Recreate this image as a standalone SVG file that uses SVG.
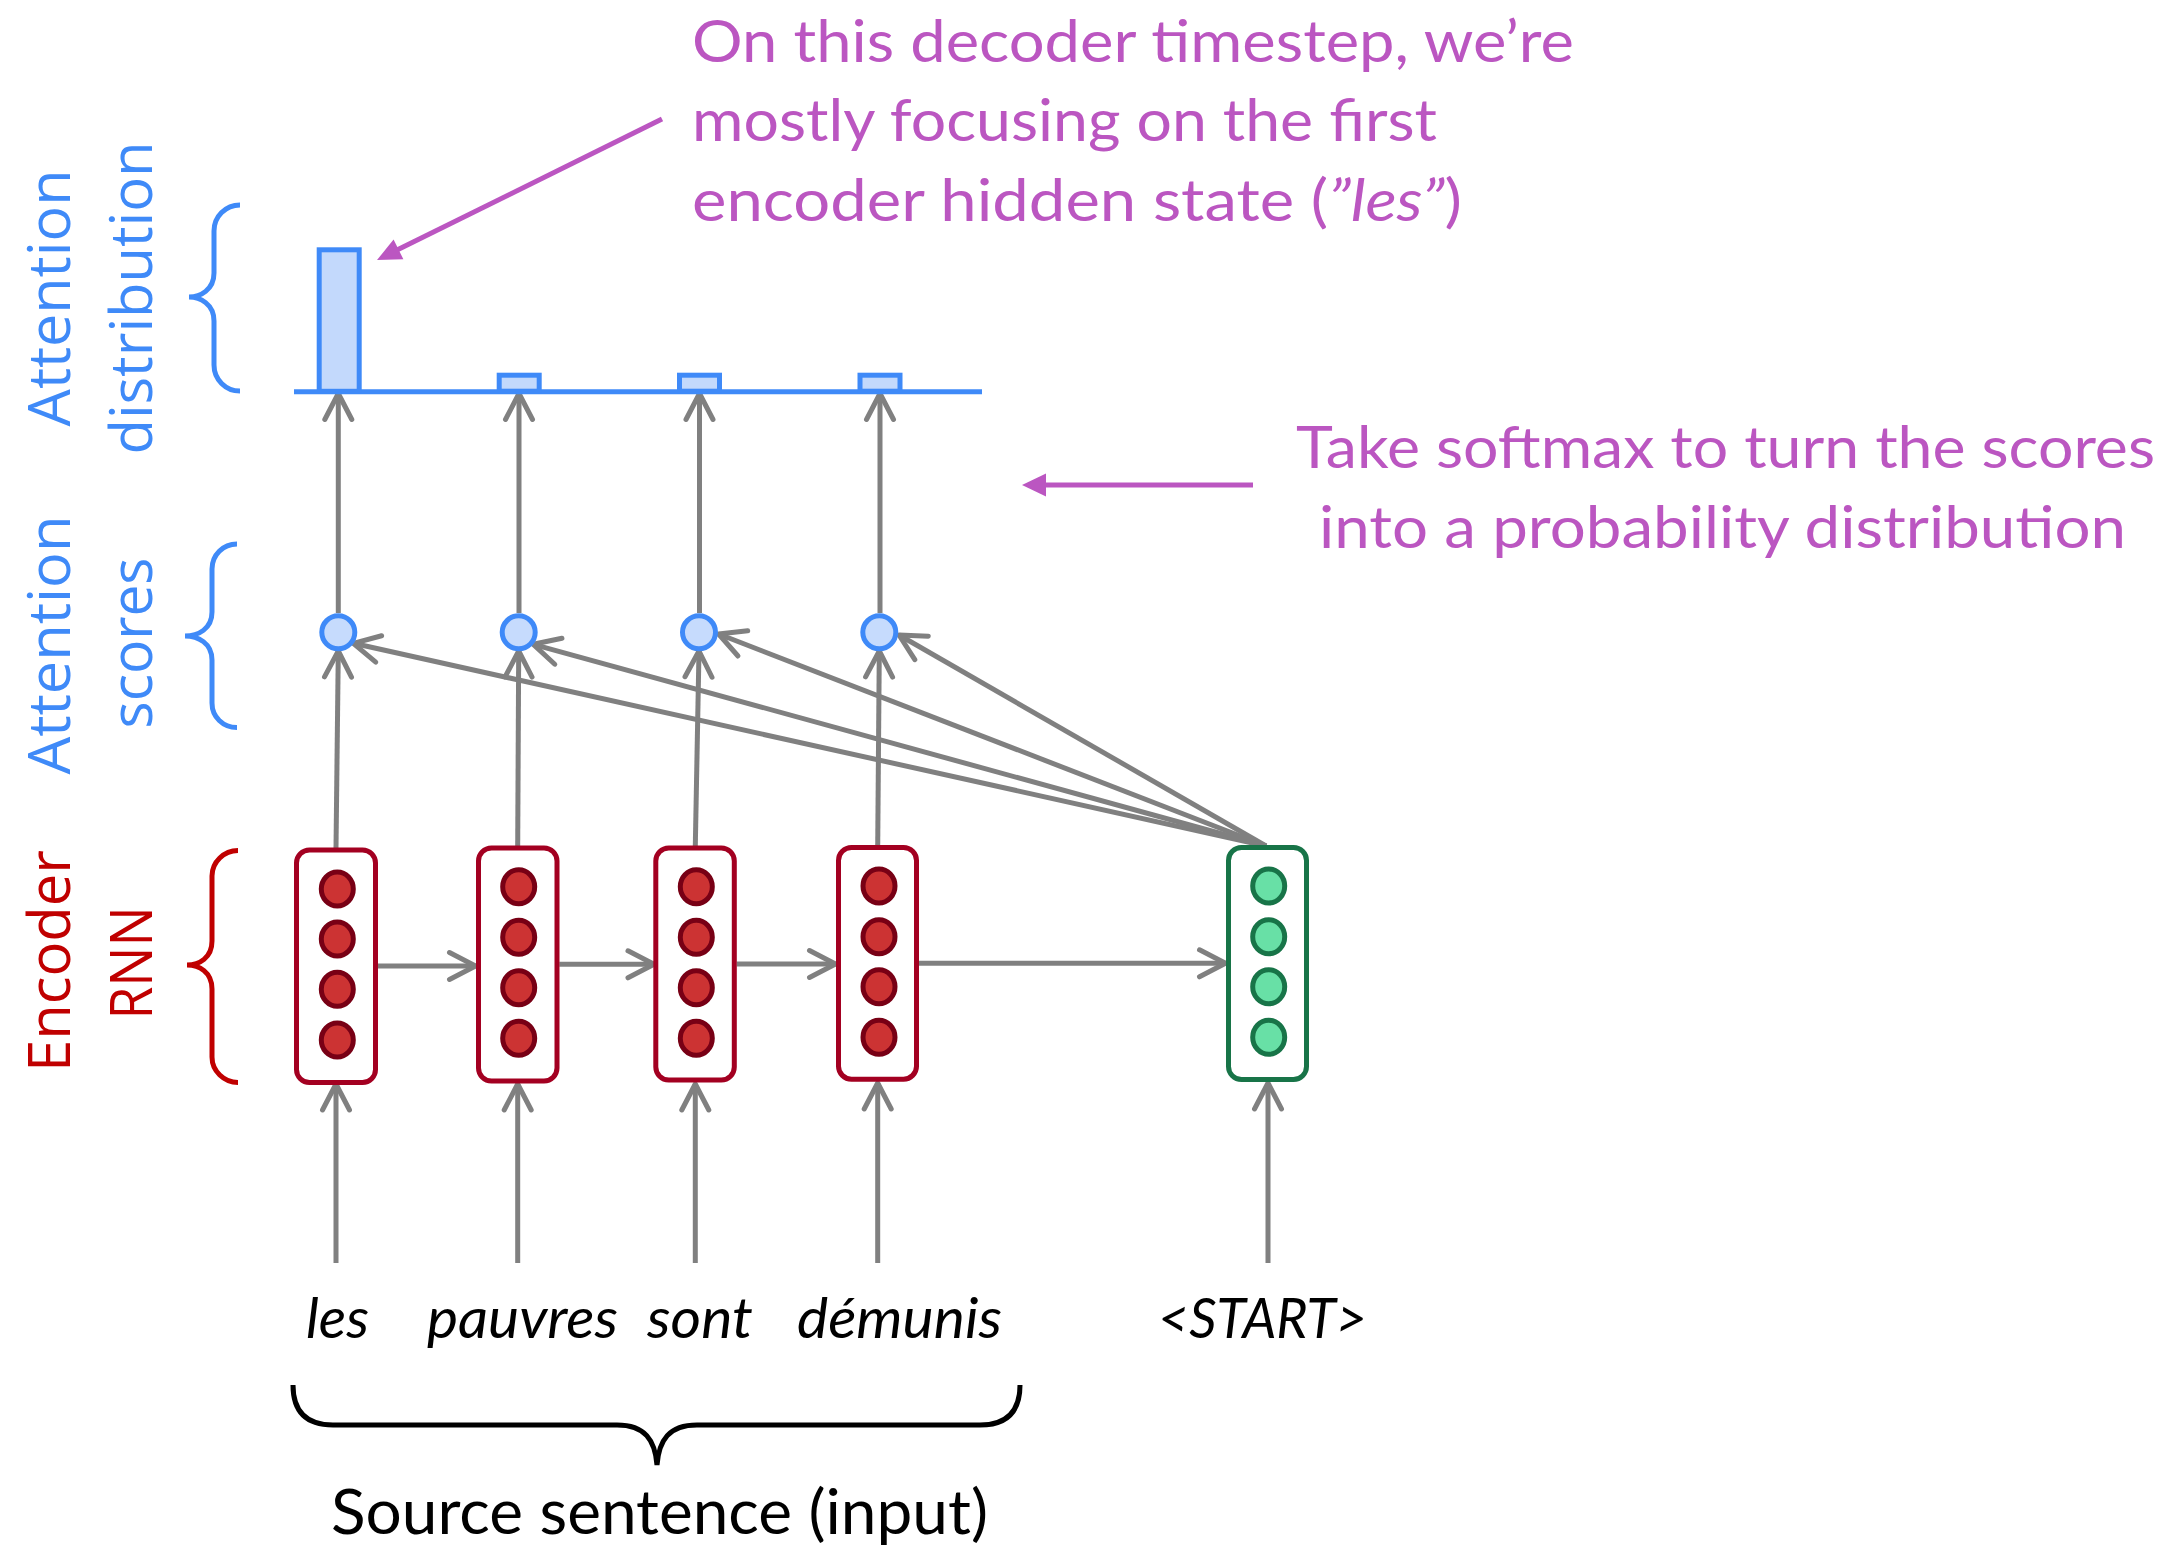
<svg xmlns="http://www.w3.org/2000/svg" width="2165" height="1545" viewBox="0 0 2165 1545">
<style>
.conn{fill:none;stroke:#808080;stroke-width:5;marker-end:url(#chev)}
.pink{fill:none;stroke:#BB56C1;stroke-width:5}
.pinkhead{fill:#BB56C1}
.bar{fill:#C3D9FC;stroke:#3F8AF8;stroke-width:5}
.score{fill:#C6DBFD;stroke:#3F8AF8;stroke-width:5}
.enc{fill:#FFFFFF;stroke:#A30021;stroke-width:5}
.dec{fill:#FFFFFF;stroke:#187448;stroke-width:5}
.rdot{fill:#CC3333;stroke:#780015;stroke-width:5}
.gdot{fill:#68E0A6;stroke:#187448;stroke-width:5}
.bbrace{fill:none;stroke:#3F8AF8;stroke-width:5}
.rbrace{fill:none;stroke:#C00000;stroke-width:5}
.kbrace{fill:none;stroke:#000000;stroke-width:5}
.side{font-family:'Open Sans','Noto Sans',sans-serif;font-size:59px;text-anchor:middle}
.ann{font-family:Lato,'Open Sans',sans-serif;font-size:58px;fill:#BB56C1}
.word{font-family:Lato,'Open Sans',sans-serif;font-size:57px;font-style:italic;fill:#000000}
.src{font-family:Lato,'Open Sans',sans-serif;font-size:62px;fill:#000000}
</style>
<defs>
<marker id="chev" markerUnits="userSpaceOnUse" orient="auto" overflow="visible" refX="0" refY="0" markerWidth="1" markerHeight="1">
<path d="M-26,-13.5 L0,0 L-26,13.5" fill="none" stroke="#808080" stroke-width="5" stroke-linecap="round" stroke-linejoin="round"/>
</marker>
</defs>
<rect x="0" y="0" width="2165" height="1545" fill="#FFFFFF"/>

<g id="side-labels">
<text class="side" fill="#3F8AF8" transform="translate(70,298) rotate(-90)" textLength="257" lengthAdjust="spacingAndGlyphs">Attention</text>
<text class="side" fill="#3F8AF8" transform="translate(152,298) rotate(-90)" textLength="313" lengthAdjust="spacingAndGlyphs">distribution</text>
<text class="side" fill="#3F8AF8" transform="translate(70,645) rotate(-90)" textLength="259" lengthAdjust="spacingAndGlyphs">Attention</text>
<text class="side" fill="#3F8AF8" transform="translate(152,643) rotate(-90)" textLength="171" lengthAdjust="spacingAndGlyphs">scores</text>
<text class="side" fill="#C00000" transform="translate(70,961) rotate(-90)" textLength="222" lengthAdjust="spacingAndGlyphs">Encoder</text>
<text class="side" fill="#C00000" transform="translate(152,963) rotate(-90)" textLength="113" lengthAdjust="spacingAndGlyphs">RNN</text>
</g>

<g id="braces">
<path class="bbrace" d="M240,205 C225.6,205 214,216.6 214,231 L214,273 C214,290 200,297 189,297 C200,297 214,304 214,321 L214,365 C214,379.4 225.6,391 240,391"/>
<path class="bbrace" d="M237,544 C223,544 212,555 212,569 L212,612 C212,629 198,636 185,636 C198,636 212,643 212,660 L212,703 C212,717 223,727.5 237,727.5"/>
<path class="rbrace" d="M238,850.5 C224,850.5 212,862 212,876 L212,941 C212,958 199,965 187,965 C199,965 212,972 212,989 L212,1057 C212,1071 224,1082.5 238,1082.5"/>
<path class="kbrace" d="M293,1385 C293,1410 305,1425 333,1425 L617,1425 C645,1425 655,1440 657,1465 C659,1440 669,1425 697,1425 L980,1425 C1008,1425 1020,1410 1020,1385"/>
</g>

<g id="connectors">
<line class="conn" x1="338.3" y1="613" x2="338.3" y2="393.5"/>
<line class="conn" x1="519" y1="613" x2="519" y2="393.5"/>
<line class="conn" x1="699.5" y1="613" x2="699.5" y2="393.5"/>
<line class="conn" x1="880" y1="613" x2="880" y2="393.5"/>
<line class="conn" x1="336" y1="848" x2="338.3" y2="651"/>
<line class="conn" x1="517.7" y1="846" x2="518.7" y2="651"/>
<line class="conn" x1="695.3" y1="846" x2="699" y2="651"/>
<line class="conn" x1="877.7" y1="846" x2="879.3" y2="651"/>
<line class="conn" x1="1266" y1="846" x2="353.3" y2="643.3"/>
<line class="conn" x1="1266" y1="846" x2="533.3" y2="644.3"/>
<line class="conn" x1="1266" y1="846" x2="718.6" y2="634"/>
<line class="conn" x1="1266" y1="846" x2="899" y2="635"/>
<line class="conn" x1="377.7" y1="966" x2="475.5" y2="966"/>
<line class="conn" x1="559.3" y1="964.3" x2="654" y2="964.3"/>
<line class="conn" x1="736.7" y1="964" x2="835.5" y2="964"/>
<line class="conn" x1="919" y1="963.3" x2="1225.5" y2="963.3"/>
<line class="conn" x1="336" y1="1263" x2="336" y2="1084"/>
<line class="conn" x1="517.7" y1="1263" x2="517.7" y2="1084"/>
<line class="conn" x1="695.3" y1="1263" x2="695.3" y2="1084"/>
<line class="conn" x1="877.7" y1="1263" x2="877.7" y2="1083"/>
<line class="conn" x1="1268" y1="1263" x2="1268" y2="1083"/>
<line class="pink" x1="662" y1="119" x2="396" y2="250.6"/>
<polygon class="pinkhead" points="377,260 393.6,239.5 403.4,259.3"/>
<line class="pink" x1="1253" y1="485" x2="1042" y2="485"/>
<polygon class="pinkhead" points="1022,485 1046,473.5 1046,496.5"/>
</g>

<g id="attention-distribution">
<line x1="294" y1="391.7" x2="982" y2="391.7" stroke="#3F8AF8" stroke-width="5"/>
<rect id="bar-les" class="bar" x="319.2" y="249.8" width="40" height="141.5"/>
<rect id="bar-pauvres" class="bar" x="499.2" y="375.2" width="40" height="16"/>
<rect id="bar-sont" class="bar" x="679.5" y="375.2" width="40" height="16"/>
<rect id="bar-demunis" class="bar" x="860" y="375.2" width="40" height="16"/>
</g>

<g id="score-les"><circle class="score" cx="338.3" cy="632.3" r="16.5"/></g>
<g id="score-pauvres"><circle class="score" cx="518.7" cy="632.3" r="16.5"/></g>
<g id="score-sont"><circle class="score" cx="699" cy="632.3" r="16.5"/></g>
<g id="score-demunis"><circle class="score" cx="879.3" cy="632.3" r="16.5"/></g>

<g id="enc-les">
<rect class="enc" x="296.5" y="850" width="79" height="232.5" rx="13"/>
<ellipse class="rdot" cx="337.3" cy="889" rx="16" ry="17"/>
<ellipse class="rdot" cx="337.3" cy="939" rx="16" ry="17"/>
<ellipse class="rdot" cx="337.3" cy="989.3" rx="16" ry="17"/>
<ellipse class="rdot" cx="337.3" cy="1040" rx="16" ry="17"/>
</g>
<g id="enc-pauvres">
<rect class="enc" x="478.5" y="848" width="78.5" height="233" rx="13"/>
<ellipse class="rdot" cx="518.7" cy="886.7" rx="16" ry="17"/>
<ellipse class="rdot" cx="518.7" cy="937.3" rx="16" ry="17"/>
<ellipse class="rdot" cx="518.7" cy="987.7" rx="16" ry="17"/>
<ellipse class="rdot" cx="518.7" cy="1038.3" rx="16" ry="17"/>
</g>
<g id="enc-sont">
<rect class="enc" x="655.8" y="848" width="78.5" height="232" rx="13"/>
<ellipse class="rdot" cx="696.3" cy="886.7" rx="16" ry="17"/>
<ellipse class="rdot" cx="696.3" cy="937.3" rx="16" ry="17"/>
<ellipse class="rdot" cx="696.3" cy="987.7" rx="16" ry="17"/>
<ellipse class="rdot" cx="696.3" cy="1038.3" rx="16" ry="17"/>
</g>
<g id="enc-demunis">
<rect class="enc" x="838.5" y="847.5" width="78" height="231.7" rx="13"/>
<ellipse class="rdot" cx="879" cy="886" rx="16" ry="17"/>
<ellipse class="rdot" cx="879" cy="936.7" rx="16" ry="17"/>
<ellipse class="rdot" cx="879" cy="986.7" rx="16" ry="17"/>
<ellipse class="rdot" cx="879" cy="1037.3" rx="16" ry="17"/>
</g>
<g id="dec-start">
<rect class="dec" x="1228.5" y="847.5" width="78" height="232" rx="13"/>
<ellipse class="gdot" cx="1268.7" cy="886" rx="16" ry="17"/>
<ellipse class="gdot" cx="1268.7" cy="936.7" rx="16" ry="17"/>
<ellipse class="gdot" cx="1268.7" cy="986.7" rx="16" ry="17"/>
<ellipse class="gdot" cx="1268.7" cy="1037.3" rx="16" ry="17"/>
</g>

<g id="words">
<text class="word" x="306" y="1338" textLength="63" lengthAdjust="spacingAndGlyphs">les</text>
<text class="word" x="427" y="1338" textLength="191" lengthAdjust="spacingAndGlyphs">pauvres</text>
<text class="word" x="647" y="1338" textLength="106" lengthAdjust="spacingAndGlyphs">sont</text>
<text class="word" x="797" y="1338" textLength="205" lengthAdjust="spacingAndGlyphs">démunis</text>
<text class="word" x="1158" y="1338" textLength="209" lengthAdjust="spacingAndGlyphs">&lt;START&gt;</text>
</g>

<g id="source-label">
<text class="src" x="331" y="1534" textLength="657" lengthAdjust="spacingAndGlyphs">Source sentence (input)</text>
</g>

<g id="annotation-focus">
<text class="ann" x="692" y="62" textLength="882" lengthAdjust="spacingAndGlyphs">On this decoder timestep, we’re</text>
<text class="ann" x="692" y="141" textLength="745" lengthAdjust="spacingAndGlyphs">mostly focusing on the first</text>
<text class="ann" x="692" y="221" textLength="770" lengthAdjust="spacingAndGlyphs">encoder hidden state (<tspan font-style="italic">”les”</tspan>)</text>
</g>

<g id="annotation-softmax">
<text class="ann" x="1296" y="468" textLength="859" lengthAdjust="spacingAndGlyphs">Take softmax to turn the scores</text>
<text class="ann" x="1319" y="548" textLength="807" lengthAdjust="spacingAndGlyphs">into a probability distribution</text>
</g>
</svg>
